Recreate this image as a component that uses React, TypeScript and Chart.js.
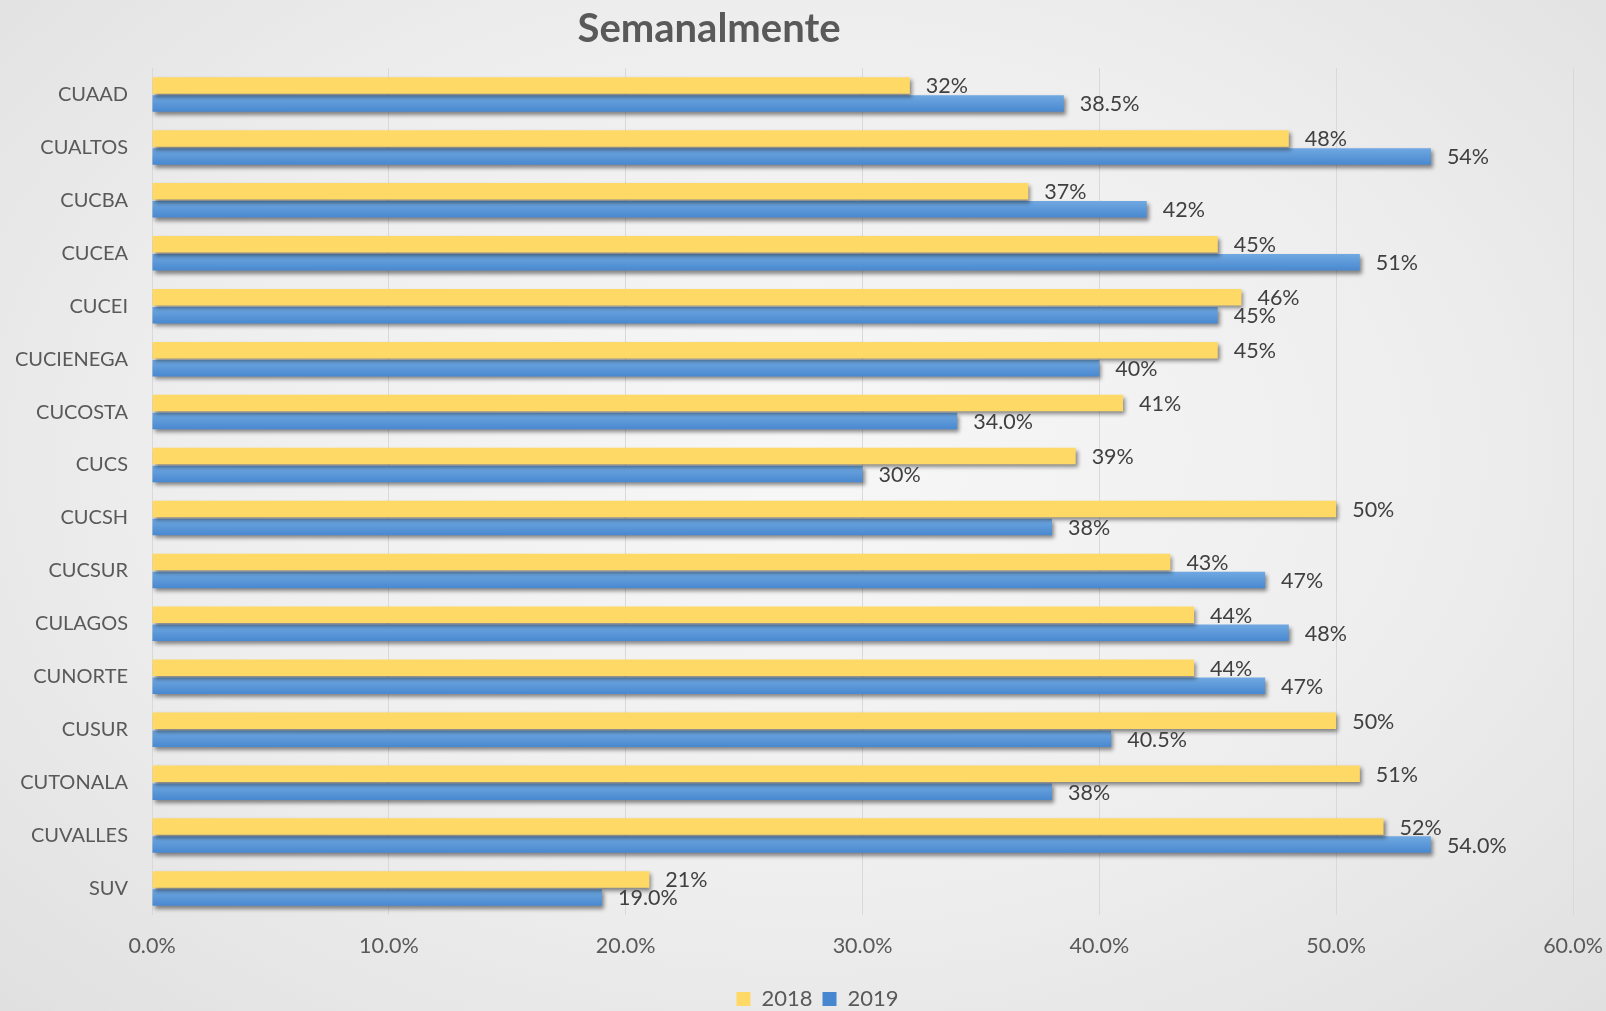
import React, { useEffect, useRef } from "react";
import { Chart, registerables } from "chart.js";

Chart.register(...registerables);

const TITLE = "Semanalmente";
const CATEGORIES = [
  "CUAAD", "CUALTOS", "CUCBA", "CUCEA", "CUCEI", "CUCIENEGA", "CUCOSTA", "CUCS",
  "CUCSH", "CUCSUR", "CULAGOS", "CUNORTE", "CUSUR", "CUTONALA", "CUVALLES", "SUV",
];
const SERIES_2018 = [32, 48, 37, 45, 46, 45, 41, 39, 50, 43, 44, 44, 50, 51, 52, 21];
const SERIES_2019 = [38.5, 54, 42, 51, 45, 40, 34, 30, 38, 47, 48, 47, 40.5, 38, 54, 19];
const LABELS_2018 = ["32%", "48%", "37%", "45%", "46%", "45%", "41%", "39%", "50%", "43%", "44%", "44%", "50%", "51%", "52%", "21%"];
const LABELS_2019 = ["38.5%", "54%", "42%", "51%", "45%", "40%", "34.0%", "30%", "38%", "47%", "48%", "47%", "40.5%", "38%", "54.0%", "19.0%"];
const X_MIN = 0;
const X_MAX = 60;
const X_STEP = 10;

const FONT = "Lato, 'Open Sans', sans-serif";

export default function App() {
  const ref = useRef<HTMLCanvasElement | null>(null);

  useEffect(() => {
    document.body.style.margin = "0";
    const canvas = ref.current;
    if (!canvas) return;

    const blueFill = (c: any) => {
      const chart = c.chart;
      const y = chart.scales && chart.scales.y;
      if (!y || c.dataIndex == null) return "#5B9BD5";
      const center = y.getPixelForValue(c.dataIndex);
      const next = y.getPixelForValue(c.dataIndex + 1);
      const cat = next - center;
      if (!isFinite(center) || !isFinite(cat) || cat === 0) return "#5B9BD5";
      const g = chart.ctx.createLinearGradient(0, center, 0, center + (cat * 0.68) / 2);
      g.addColorStop(0, "#72AAE2");
      g.addColorStop(1, "#4787CF");
      return g;
    };

    const shadowPlugin = {
      id: "barShadow",
      beforeDatasetsDraw(chart: any) {
        const ctx = chart.ctx;
        ctx.save();
        ctx.shadowColor = "rgba(0,0,0,0.45)";
        ctx.shadowBlur = 4;
        ctx.shadowOffsetX = 2;
        ctx.shadowOffsetY = 3;
      },
      afterDatasetsDraw(chart: any) {
        chart.ctx.restore();
      },
    };

    const labelPlugin = {
      id: "valueLabels",
      afterDatasetsDraw(chart: any) {
        const ctx = chart.ctx;
        const all = [LABELS_2018, LABELS_2019];
        ctx.save();
        ctx.font = `21.5px ${FONT}`;
        ctx.fillStyle = "#404040";
        ctx.textAlign = "left";
        ctx.textBaseline = "middle";
        chart.data.datasets.forEach((_d: any, di: number) => {
          const meta = chart.getDatasetMeta(di);
          meta.data.forEach((el: any, i: number) => {
            ctx.fillText(all[di][i], el.x + 16, el.y + 1);
          });
        });
        ctx.restore();
      },
    };

    const titlePlugin = {
      id: "customTitle",
      afterDraw(chart: any) {
        const ctx = chart.ctx;
        ctx.save();
        ctx.font = `bold 40px ${FONT}`;
        ctx.fillStyle = "#595959";
        ctx.textAlign = "center";
        ctx.textBaseline = "middle";
        ctx.fillText(TITLE, chart.width * 0.4415, 29);
        ctx.restore();
      },
    };

    const legendShift = {
      id: "legendShift",
      afterLayout(chart: any) {
        if (chart.legend) {
          chart.legend.left += 31;
          chart.legend.right += 31;
        }
      },
    };

    const chart = new Chart(canvas, {
      type: "bar",
      data: {
        labels: CATEGORIES,
        datasets: [
          {
            label: "2018",
            data: SERIES_2018,
            backgroundColor: "#FFD966",
            borderWidth: 0,
            categoryPercentage: 0.68,
            barPercentage: 0.92,
          },
          {
            label: "2019",
            data: SERIES_2019,
            backgroundColor: blueFill,
            borderWidth: 0,
            categoryPercentage: 0.68,
            barPercentage: 0.92,
          },
        ],
      },
      options: {
        indexAxis: "y",
        animation: false,
        responsive: false,
        maintainAspectRatio: false,
        layout: { padding: { top: 68, left: 0, right: 33, bottom: -9 } },
        scales: {
          x: {
            min: X_MIN,
            max: X_MAX,
            ticks: {
              stepSize: X_STEP,
              padding: 18,
              color: "#595959",
              font: { family: FONT, size: 21.5 },
              callback: (v: any) => Number(v).toFixed(1) + "%",
            },
            grid: { color: "#D9D9D9", drawTicks: false, lineWidth: 1 },
            border: { display: false },
            afterFit: (s: any) => {
              s.height = 63;
              s.paddingLeft = 0;
              s.paddingRight = 0;
            },
          },
          y: {
            ticks: {
              padding: 24,
              color: "#595959",
              font: { family: FONT, size: 20 },
            },
            grid: { display: false, drawTicks: false },
            border: { display: false },
            afterFit: (s: any) => {
              s.width = 152;
            },
          },
        },
        plugins: {
          legend: {
            position: "bottom",
            labels: {
              color: "#595959",
              font: { family: FONT, size: 22 },
              boxWidth: 14,
              boxHeight: 14,
              padding: 10,
            },
          },
          title: { display: false },
          tooltip: { enabled: false },
        },
      },
      plugins: [shadowPlugin, labelPlugin, titlePlugin, legendShift],
    } as any);

    return () => chart.destroy();
  }, []);

  return (
    <div
      style={{
        width: 1606,
        height: 1011,
        position: "relative",
        background: "radial-gradient(ellipse at 50% 45%, #f7f7f7 0%, #eeeeee 55%, #e0e0e0 100%)",
      }}
    >
      <canvas ref={ref} width={1606} height={1011} style={{ display: "block" }} />
    </div>
  );
}
